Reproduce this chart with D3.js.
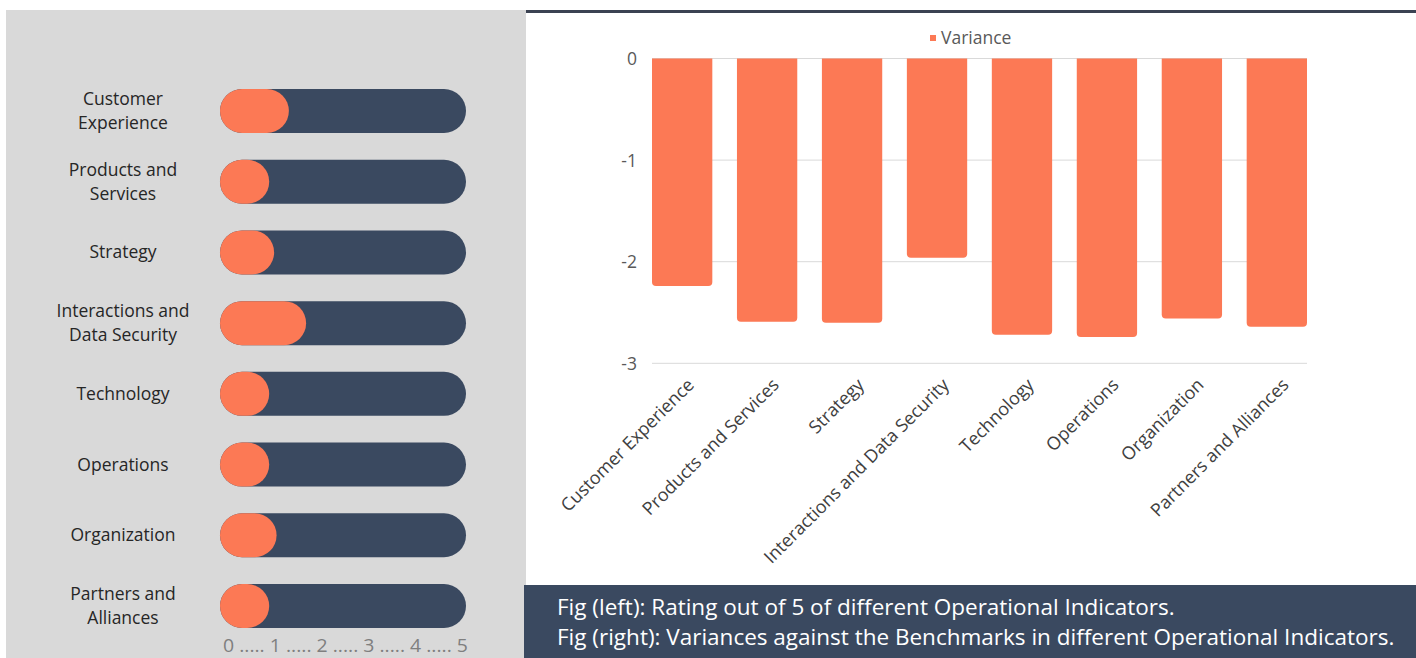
<!DOCTYPE html>
<html>
<head>
<meta charset="utf-8">
<script src="https://cdn.jsdelivr.net/npm/d3@7"></script>
<style>
  body { margin: 0; background: #fff; }
  svg { display: block; font-family: "Open Sans", sans-serif; }
</style>
</head>
<body>
<div id="chart"></div>
<script>
var svgWidth = 1416;
var svgHeight = 658;

// data
var categories = ["Customer Experience", "Products and Services", "Strategy",
  "Interactions and Data Security", "Technology", "Operations", "Organization",
  "Partners and Alliances"];
var leftLabels = [["Customer", "Experience"], ["Products and", "Services"], ["Strategy"],
  ["Interactions and", "Data Security"], ["Technology"], ["Operations"], ["Organization"],
  ["Partners and", "Alliances"]];
var ratings = [1.4, 1.0, 1.1, 1.75, 1.0, 1.0, 1.15, 1.0];
var ratingTicks = [0, 1, 2, 3, 4, 5];
var variances = [-2.24, -2.59, -2.60, -1.96, -2.72, -2.74, -2.56, -2.64];
var varianceTicks = [0, -1, -2, -3];
var seriesName = "Variance";
var captions = ["Fig (left): Rating out of 5 of different Operational Indicators.",
  "Fig (right): Variances against the Benchmarks in different Operational Indicators."];

var orange = "#fc7955";
var navy = "#3a4960";

var svg = d3.select("#chart").append("svg")
  .attr("width", svgWidth)
  .attr("height", svgHeight);

// ---- left panel
svg.append("rect")
  .attr("x", 6).attr("y", 10)
  .attr("width", 520).attr("height", svgHeight - 10)
  .attr("fill", "#d9d9d9");

var xRate = d3.scaleLinear().domain([0, 5]).range([220, 466]);
var yRow = d3.scalePoint().domain(categories).range([111, 606]);
var pillH = 44;

var rows = svg.append("g").selectAll("g")
  .data(categories)
  .enter()
  .append("g")
  .attr("transform", d => `translate(0, ${yRow(d)})`);

rows.append("rect")
  .attr("x", xRate(0))
  .attr("y", -pillH / 2)
  .attr("width", xRate(5) - xRate(0))
  .attr("height", pillH)
  .attr("rx", pillH / 2)
  .attr("fill", navy);

rows.append("rect")
  .attr("x", xRate(0))
  .attr("y", -pillH / 2)
  .attr("width", (d, i) => xRate(ratings[i]) - xRate(0))
  .attr("height", pillH)
  .attr("rx", pillH / 2)
  .attr("fill", orange);

rows.append("text")
  .attr("x", 123)
  .attr("text-anchor", "middle")
  .attr("font-size", 17.5)
  .attr("fill", "#262626")
  .each(function(d, i) {
    var lines = leftLabels[i];
    var t = d3.select(this);
    lines.forEach(function(line, j) {
      t.append("tspan")
        .attr("x", 123)
        .attr("y", (j - (lines.length - 1) / 2) * 24 + 6)
        .text(line);
    });
  });

svg.append("text")
  .attr("x", 223)
  .attr("y", 652)
  .attr("font-size", 17.5)
  .attr("fill", "#7f7f7f")
  .attr("textLength", 245)
  .attr("lengthAdjust", "spacingAndGlyphs")
  .text(ratingTicks.join(" ..... "));

// ---- right panel
svg.append("rect")
  .attr("x", 526).attr("y", 10)
  .attr("width", svgWidth - 526).attr("height", 3)
  .attr("fill", "#3b4252");

var x = d3.scaleBand().domain(categories).range([652, 1307])
  .paddingInner(0.29).paddingOuter(0);
var y = d3.scaleLinear().domain([-3, 0]).range([363.3, 58.5]);

var grid = svg.append("g");
grid.selectAll("line")
  .data(varianceTicks)
  .enter()
  .append("line")
  .attr("x1", 652).attr("x2", 1307)
  .attr("y1", d => y(d)).attr("y2", d => y(d))
  .attr("stroke", "#d9d9d9")
  .attr("stroke-width", 1);

grid.selectAll("text")
  .data(varianceTicks)
  .enter()
  .append("text")
  .attr("x", 637)
  .attr("y", d => y(d))
  .attr("dy", "0.38em")
  .attr("text-anchor", "end")
  .attr("font-size", 17.5)
  .attr("fill", "#595959")
  .text(d => d);

function barPath(x0, y0, w, h, r) {
  return `M${x0},${y0}h${w}v${h - r}a${r},${r} 0 0 1 ${-r},${r}` +
    `h${-(w - 2 * r)}a${r},${r} 0 0 1 ${-r},${-r}z`;
}

svg.append("g").selectAll("path")
  .data(categories)
  .enter()
  .append("path")
  .attr("d", (d, i) => barPath(x(d), y(0), x.bandwidth(), y(variances[i]) - y(0), 4))
  .attr("fill", orange);

svg.append("g").selectAll("text")
  .data(categories)
  .enter()
  .append("text")
  .attr("text-anchor", "end")
  .attr("font-size", 18)
  .attr("fill", "#404040")
  .attr("transform", d => `translate(${x(d) + x.bandwidth() / 2 + 13}, 386) rotate(-45)`)
  .text(d => d);

// legend
var legend = svg.append("g").attr("transform", "translate(930, 38)");
legend.append("rect")
  .attr("x", 0).attr("y", -3)
  .attr("width", 6).attr("height", 6)
  .attr("fill", orange);
legend.append("text")
  .attr("x", 11).attr("y", 0)
  .attr("dy", "0.35em")
  .attr("font-size", 17.5)
  .attr("fill", "#595959")
  .text(seriesName);

// caption box
svg.append("rect")
  .attr("x", 524).attr("y", 585)
  .attr("width", svgWidth - 524).attr("height", svgHeight - 585)
  .attr("fill", navy);

svg.append("g").selectAll("text")
  .data(captions)
  .enter()
  .append("text")
  .attr("x", 557)
  .attr("y", (d, i) => 615 + i * 30)
  .attr("font-size", 22.5)
  .attr("fill", "#ffffff")
  .text(d => d);
</script>
</body>
</html>
